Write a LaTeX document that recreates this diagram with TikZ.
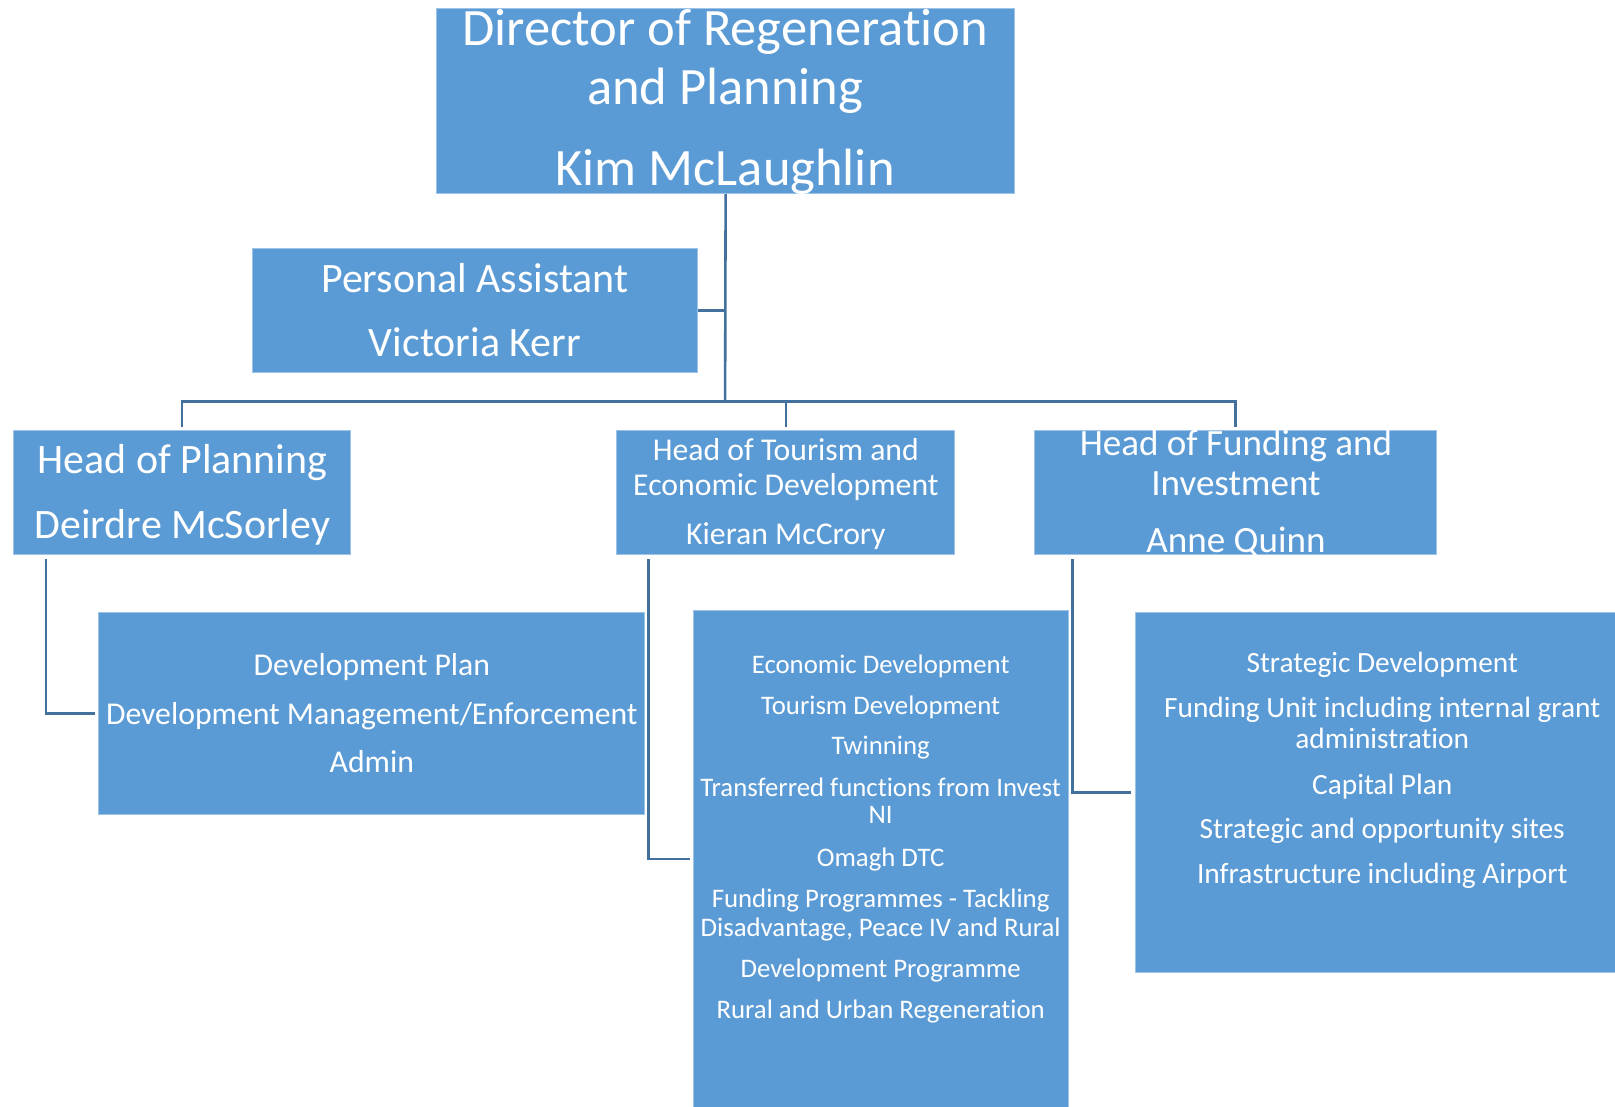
\documentclass[tikz,border=0pt]{standalone}
\usepackage{fontspec}
\setmainfont{Carlito}[RawFeature={-liga;-clig;-dlig;-calt}]
\usetikzlibrary{calc}
\definecolor{boxblue}{HTML}{5B9BD5}
\definecolor{boxedge}{HTML}{9DC3E6}
\definecolor{linkblue}{HTML}{41719C}
\begin{document}
\begin{tikzpicture}[x=1pt,y=-1pt,
  box/.style={rectangle, fill=boxblue, draw=boxedge, line width=1pt, inner sep=0pt},
  conn/.style={draw=linkblue, line width=2.5pt},
  txt/.style={anchor=base, inner sep=0pt, text=white},
  fA/.style={font=\fontsize{51}{61}\selectfont},
  fB/.style={font=\fontsize{40.7}{49}\selectfont},
  fC/.style={font=\fontsize{30.8}{37}\selectfont},
  fD/.style={font=\fontsize{36}{43}\selectfont},
  fE/.style={font=\fontsize{26}{31}\selectfont},
  fF/.style={font=\fontsize{28.5}{34}\selectfont}]
\useasboundingbox (0,0) rectangle (1568,1074);
\fill[white] (0,0) rectangle (1568,1074);

% boxes
\node[box, minimum width=561pt, minimum height=180pt] (dir) at (704.5,98) {};
\node[box, minimum width=432pt, minimum height=121pt] (pa) at (461,301.5) {};
\node[box, minimum width=327pt, minimum height=120pt] (hp) at (176.5,478) {};
\node[box, minimum width=328pt, minimum height=120pt] (ht) at (763,478) {};
\node[box, minimum width=391pt, minimum height=120pt] (hf) at (1199.5,478) {};
\node[box, minimum width=530pt, minimum height=196pt] (dp) at (361,693) {};
\node[box, minimum width=364pt, minimum height=482pt] (ts) at (855,834) {};
\node[box, minimum width=480pt, minimum height=349pt] (fs) at (1342,769.5) {};

% texts
\node[txt,fA] (d1) at (704,44) {Director of Regeneration};
\node[txt,fA] (d2) at (704,101) {and Planning};
\node[txt,fA] (d3) at (704,180) {Kim McLaughlin};

\node[txt,fB] (p1) at (461,284) {Personal Assistant};
\node[txt,fB] (p2) at (461,346) {Victoria Kerr};

\node[txt,fB] (h1) at (177,460) {Head of Planning};
\node[txt,fB] (h2) at (177,523) {Deirdre McSorley};

\node[txt,fC] (t1) at (763,447) {Head of Tourism and};
\node[txt,fC] (t2) at (763,481) {Economic Development};
\node[txt,fC] (t3) at (763,529) {Kieran McCrory};

\node[txt,fD] (f1) at (1200,442) {Head of Funding and};
\node[txt,fD] (f2) at (1200,481) {Investment};
\node[txt,fD] (f3) at (1200,536) {Anne Quinn};

\node[txt,fC] (dp1) at (361,656) {Development Plan};
\node[txt,fC] (dp2) at (361,703) {Development Management/Enforcement};
\node[txt,fC] (dp3) at (361,750) {Admin};

\node[txt,fE] (ts1) at (855,654) {Economic Development};
\node[txt,fE] (ts2) at (855,694) {Tourism Development};
\node[txt,fE] (ts3) at (855,733) {Twinning};
\node[txt,fE] (ts4) at (855,773) {Transferred functions from Invest};
\node[txt,fE] (ts5) at (855,800) {NI};
\node[txt,fE] (ts6) at (855,841) {Omagh DTC};
\node[txt,fE] (ts7) at (855,881) {Funding Programmes - Tackling};
\node[txt,fE] (ts8) at (855,909) {Disadvantage, Peace IV and Rural};
\node[txt,fE] (ts9) at (855,949) {Development Programme};
\node[txt,fE] (ts10) at (855,989) {Rural and Urban Regeneration};

\node[txt,fF] (fs1) at (1342,653) {Strategic Development};
\node[txt,fF] (fs2) at (1342,697) {Funding Unit including internal grant};
\node[txt,fF] (fs3) at (1342,727) {administration};
\node[txt,fF] (fs4) at (1342,771) {Capital Plan};
\node[txt,fF] (fs5) at (1342,814) {Strategic and opportunity sites};
\node[txt,fF] (fs6) at (1342,858) {Infrastructure including Airport};

% connectors
\coordinate (bus) at (704,390);
\draw[conn] (dir.south) -- (bus);
\draw[conn] (pa.east) -- (pa.east -| bus);
\draw[conn, shorten <=3pt] (hp.north) |- (bus);
\draw[conn, shorten <=3pt] (ht.north) |- (bus);
\draw[conn, shorten <=3pt] (hf.north) |- (bus);
\draw[conn] ($(hp.south west)+(32,4)$) |- ($(dp.west)+(-3,0)$);
\draw[conn] ($(ht.south west)+(31,4)$) |- ($(ts.west)+(-3,0)$);
\draw[conn] ($(hf.south west)+(38,4)$) |- ($(fs.west)+(-3,0)$);
\end{tikzpicture}
\end{document}
